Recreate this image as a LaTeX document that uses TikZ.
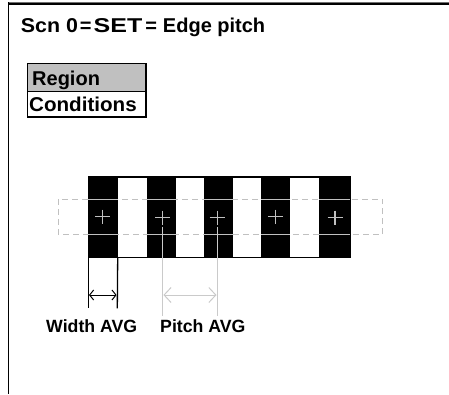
\documentclass[tikz,border=0pt]{standalone}
\usepackage{fontspec}
\setmainfont{Liberation Sans}
\usepackage{graphicx}
\usetikzlibrary{arrows.meta,calc}
\definecolor{lgray}{HTML}{C0C0C0}
\definecolor{pgray}{HTML}{CACACA}
\definecolor{hdr}{HTML}{C0C0C0}
\definecolor{edge}{HTML}{707070}
\begin{document}
\begin{tikzpicture}[x=1pt,y=-1pt,
  txt/.style={inner sep=0pt, anchor=base west, font=\fontsize{20}{24}\selectfont\bfseries},
  small/.style={inner sep=0pt, anchor=base west, font=\fontsize{17.7}{20}\selectfont\bfseries},
  cell/.style={draw=black, line width=1.3pt, inner sep=0pt, anchor=north west, minimum width=118.6pt},
  stripe/.style={fill=black, draw=none, inner sep=0pt, anchor=north west, minimum width=29pt, minimum height=80.3pt},
  crossln/.style={draw=lgray, line width=1.1pt},
  wline/.style={draw=black, line width=1.3pt},
  pline/.style={draw=pgray, line width=1.3pt},
  warrow/.style={draw=black, line width=1pt, {Straight Barb[length=4pt,width=10pt]}-{Straight Barb[length=4pt,width=10pt]}},
  parrow/.style={draw=pgray, line width=1pt, {Straight Barb[length=7pt,width=15pt]}-{Straight Barb[length=7pt,width=15pt]}},
  roi/.style={draw=lgray, line width=1.1pt, dash pattern=on 6pt off 4pt}
]
\useasboundingbox (0,0) rectangle (449,394);
% window frame
\draw[edge, line width=1.2pt] (8.3,2.6) -- (449,2.6);
\draw[black, line width=1.2pt] (8.3,4.0) -- (449,4.0);
\draw[black, line width=1.4pt] (8.3,2.0) -- (8.3,394);
% title
\node[txt] (title) at (20.7,32.7) {\scalebox{1.07}[1]{Scn 0}\kern2pt=\kern2pt\scalebox{1.25}[1]{SET}\kern3pt=\kern6pt Edge pitch};
% table
\node[cell, fill=hdr, minimum height=28pt] (regbox) at (26.7,62.7) {};
\node[cell, fill=white, minimum height=25.6pt] (condbox) at (26.7,90.7) {};
\node[txt] (region) at (32.0,85.0) {Region};
\node[txt] (cond) at (29.0,111.5) {\scalebox{1.03}[1]{Conditions}};
% bar pattern
\node[draw=black, line width=0.8pt, fill=white, inner sep=0pt, anchor=north west, minimum width=261.7pt, minimum height=80.3pt] (bar) at (88.3,176.7) {};
\node[stripe] (s1) at (88.3,176.7) {};
\node[stripe] (s2) at (147,176.7) {};
\node[stripe] (s3) at (203.3,176.7) {};
\node[stripe] (s4) at (261,176.7) {};
\node[stripe, minimum width=31pt] (s5) at (319,176.7) {};
\draw[black, line width=0.8pt] (bar.north west) rectangle (bar.south east);
% dashed region of interest
\draw[roi] (58.3,199.3) rectangle (382.7,234.5);
\foreach \s in {s1,s2,s3,s4,s5}{
  \draw[crossln] (\s.west |- 0,199.3) -- (\s.east |- 0,199.3);
  \draw[crossln] (\s.west |- 0,234.5) -- (\s.east |- 0,234.5);
}
% crosses
\coordinate (c1) at (102.5,216.5);
\coordinate (c2) at (162.7,217.5);
\coordinate (c3) at (217.2,217.5);
\coordinate (c4) at (275.7,216.5);
\coordinate (c5) at (335.0,217.5);
\foreach \c in {c1,c2,c3,c4,c5}{
  \draw[crossln] ($(\c)+(-7.5,0)$) -- ($(\c)+(7.5,0)$);
  \draw[crossln] ($(\c)+(0,-7)$) -- ($(\c)+(0,7)$);
}
% width measurement
\coordinate (wl) at (88.3,308.3);
\coordinate (wr) at (117.3,308.3);
\draw[wline] (bar.south west) -- (wl);
\draw[wline] (s1.south east) -- (wr);
\coordinate (wa) at (89.0,295);
\coordinate (wb) at (116.6,295);
\draw[warrow] (wa) -- (wb);
% pitch measurement
\coordinate (pl) at (162.7,316);
\coordinate (pr) at (217.2,316);
\draw[pline] ($(c2)+(0,9)$) -- (pl);
\draw[pline] ($(c3)+(0,9)$) -- (pr);
\coordinate (pa) at (163.4,295);
\coordinate (pb) at (216.5,295);
\draw[parrow] (pa) -- (pb);
% labels
\node[small] (wlabel) at (46,332.7) {Width AVG};
\node[small] (plabel) at (160,332.7) {Pitch AVG};
\end{tikzpicture}
\end{document}
